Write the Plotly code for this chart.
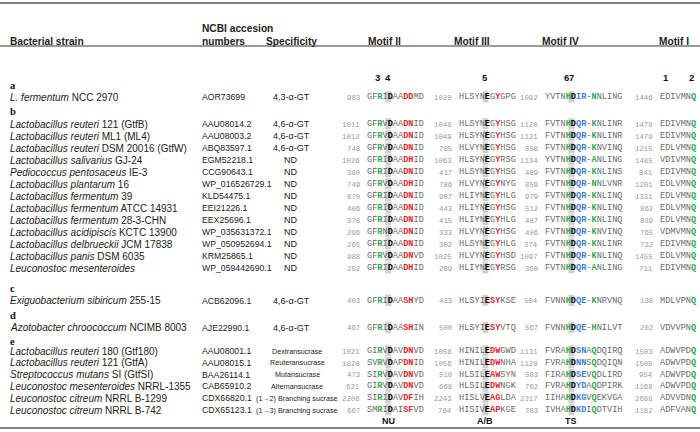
import plotly.graph_objects as go

# ---------------- data ----------------
section_labels = ["a", "b", "c", "d", "e"]
section_sizes = [1, 13, 1, 1, 6]

strain_italic = [
    "L. fermentum",
    "Lactobacillus reuteri", "Lactobacillus reuteri", "Lactobacillus reuteri",
    "Lactobacillus salivarius", "Pediococcus pentosaceus", "Lactobacillus plantarum",
    "Lactobacillus fermentum", "Lactobacillus fermentum", "Lactobacillus fermentum",
    "Lactobacillus acidipiscis", "Lactobacillus delbrueckii", "Lactobacillus panis",
    "Leuconostoc mesenteroides",
    "Exiguobacterium sibiricum",
    "Azotobacter chroococcum",
    "Lactobacillus reuteri", "Lactobacillus reuteri", "Streptococcus mutans",
    "Leuconostoc mesenteroides", "Leuconostoc citreum", "Leuconostoc citreum",
]
strain_rest = [
    "NCC 2970",
    "121 (GtfB)", "ML1 (ML4)", "DSM 20016 (GtfW)",
    "GJ-24", "IE-3", "16",
    "39", "ATCC 14931", "28-3-CHN",
    "KCTC 13900", "JCM 17838", "DSM 6035",
    "",
    "255-15",
    "NCIMB 8003",
    "180 (Gtf180)", "121 (GtfA)", "SI (GtfSI)",
    "NRRL-1355", "NRRL B-1299", "NRRL B-742",
]
accessions = [
    "AOR73699",
    "AAU08014.2", "AAU08003.2", "ABQ83597.1", "EGM52218.1", "CCG90643.1",
    "WP_016526729.1", "KLD54475.1", "EEI21226.1", "EEX25696.1", "WP_035631372.1",
    "WP_050952694.1", "KRM25865.1", "WP_059442690.1",
    "ACB62096.1",
    "AJE22990.1",
    "AAU08001.1", "AAU08015.1", "BAA26114.1", "CAB65910.2", "CDX66820.1", "CDX65123.1",
]
specificity = [
    "4,3-α-GT",
    "4,6-α-GT", "4,6-α-GT", "4,6-α-GT", "ND", "ND", "ND", "ND", "ND", "ND", "ND",
    "ND", "ND", "ND",
    "4,6-α-GT",
    "4,6-α-GT",
    "Dextransucrase", "Reuteransucrase", "Mutansucrase", "Alternansucrase",
    "(1→2) Branching sucrase", "(1→3) Branching sucrase",
]
m2_start = [983, 1011, 1012, 748, 1026, 380, 749, 870, 406, 378, 296, 265, 988, 252,
            403, 467, 1021, 1020, 473, 631, 2206, 667]
m2_seq = ["GFRIDAADDMD",
          "GFRVDAADNID", "GFRVDAADNID", "GFRVDAADNID", "GFRIDAADHID", "GFRIDAADNID",
          "GFRVDAADHID", "GFRIDAADNID", "GFRIDAADNID", "GFRIDAADNID", "GFRNDAADNID",
          "GFRIDAADNID", "GFRVDAADNVD", "GFRIDAADHID",
          "GFRIDAASHYD",
          "GFRIDAASHIN",
          "GIRVDAVDNVD", "SVRVDAPDNID", "SIRVDAVDNVD", "GIRVDAVDNVD", "SIRIDAVDFIH",
          "SMRIDAISFVD"]
m3_start = [1020, 1048, 1049, 785, 1063, 417, 786, 907, 443, 415, 333, 302, 1025, 289,
            433, 500, 1058, 1056, 510, 668, 2243, 704]
m3_seq = ["HLSYNEGYGPG",
          "HLSYNEGYHSG", "HLSYNEGYHSG", "HLVYNEGYHSG", "HLSYNEGYRSG", "HLSYNEGYHSG",
          "HLVYNEGYNYG", "HLIYNEGYHLG", "HLIYNEGYHSG", "HLIYNEGYHLG", "HLVYNEGYHSG",
          "HLSYNEGYHLG", "HLVYNEGYHSD", "HLIYNEGYRSG",
          "HLSYIESYKSE",
          "HLSYIESYVTQ",
          "HINILEDWGWD", "HINILEDWNHA", "HLSILEAWSYN", "HLSILEDWNGK", "HISLVEAGLDA",
          "HISIVEAPKGE"]
m4_start = [1092, 1120, 1121, 858, 1134, 489, 859, 979, 512, 487, 406, 374, 1097, 360,
            504, 567, 1131, 1128, 583, 762, 2317, 783]
m4_seq = ["YVTNHDIR-NNLING",
          "FVTNHDQR-KNLINR", "FVTNHDQR-KNLINR", "FVTNHDQR-KNVINQ", "YVTNHDQR-ANLING",
          "FVTNHDQR-KNLINS", "FVTNHDQR-NNLVNR", "FVTNHDQR-KNLINQ", "FVTNHDQR-KNLINQ",
          "FVTNHDQR-KNLINQ", "FVTNHDQR-KNVINQ", "FVTNHDQR-KNLINR", "FVTNHDQR-KNLINQ",
          "FVTNHDQR-ANLING",
          "FVNNHDQE-KNRVNQ",
          "FVNNHDQE-HNILVT",
          "FVRAHDSNAQDQIRQ", "FVRAHDNNSQDQIQN", "FIRAHDSEVQDLIRD", "FVRAHDYDAQDPIRK",
          "IIHAHDKGVQEKVGA", "IVHAHDKDIQDTVIH"]
m1_start = [1446, 1478, 1479, 1215, 1485, 841, 1201, 1331, 862, 839, 765, 732, 1455, 711,
            138, 202, 1503, 1508, 954, 1168, 2688, 1182]
m1_seq = ["EDIVMNQ",
          "EDIVMNQ", "EDIVMNQ", "EDLVMNQ", "VDIVMNQ", "EDIVMNQ", "EDLVMNQ", "EDLVMNQ",
          "EDLVMNQ", "EDLVMNQ", "VDMVMNQ", "EDIVMNQ", "EDLVMNQ", "EDIVMNQ",
          "MDLVPNQ",
          "VDVVPNQ",
          "ADWVPDQ", "ADWVPDQ", "ADWVPDQ", "ADWVPDQ", "ADVVDNQ", "ADFVANQ"]

motif_headers = ["Motif II", "Motif III", "Motif IV", "Motif I"]
# residue numbering labels: (label, motif column, residue index)
residue_label_text = ["3", "4", "5", "6", "7", "1", "2"]
residue_label_motif = [0, 0, 1, 2, 2, 3, 3]
residue_label_index = [2, 4, 5, 4, 5, 1, 6]
# footer labels under catalytic residues
footer_text = ["NU", "A/B", "TS"]
footer_motif = [0, 1, 2]
footer_index = [4, 5, 5]

# ---------------- styling / layout ----------------
W, H = 700, 432
SANS = "Liberation Sans, Arial, sans-serif"
SERIF = "Liberation Serif, Times New Roman, serif"
MONO = "Liberation Mono, Courier New, monospace"
MONO_SIZE = 8.6
CW = 0.6 * MONO_SIZE
GREEN, RED, BLUE = "#2fa84f", "#e3262b", "#3d7fd6"
SEQ_GRAY, NUM_GRAY, BOX_GRAY = "#6a6a6a", "#9a9a9a", "#d0d0d0"

X_NAME, X_ACC, X_SPEC, X_SPEC_E = 8, 200, 291, 297
MOTIF_X = [365, 457, 543, 658]
HEADER_CX = [384, 472, 560, 674]

# residue colour rules per motif column: index -> class
rules = [
    {2: "g", 4: "k", 7: "r", 8: "r"},
    {5: "k", 6: "r?", 7: "r"},
    {4: "g", 5: "k", 6: "b", 7: "b", 9: "g"},
    {6: "g"},
]
cls_color = {"g": GREEN, "r": RED, "b": BLUE, "k": "#000000"}


def seq_html(seq, rule):
    out = []
    for i, ch in enumerate(seq):
        c = rule.get(i)
        if c == "r?":
            c = "r" if ch != "G" else None
        if c is None:
            out.append(ch)
        else:
            out.append(f'<span style="color:{cls_color[c]}"><b>{ch}</b></span>')
    return "".join(out)


fig = go.Figure()
ann = []
shapes = []


def text(x, y, s, size=9, color="#222", family=SANS, xanchor="left", yanchor="middle"):
    ann.append(dict(x=x, y=y, xref="x", yref="y", text=s, showarrow=False,
                    xanchor=xanchor, yanchor=yanchor,
                    font=dict(size=size, color=color, family=family)))


# rules
shapes.append(dict(type="line", x0=0, x1=W, y0=3, y1=3, xref="x", yref="y",
                   line=dict(color="#555", width=1.5)))
shapes.append(dict(type="line", x0=0, x1=W, y0=46, y1=46, xref="x", yref="y",
                   line=dict(color="#9a9a9a", width=2)))
shapes.append(dict(type="line", x0=0, x1=W, y0=428, y1=428, xref="x", yref="y",
                   line=dict(color="#555", width=1.5)))

# headers
HS = 10.2
text(X_NAME, 41, "<b>Bacterial strain</b>", size=HS)
text(X_ACC, 28, "<b>NCBI accesion</b>", size=HS)
text(X_ACC, 41, "<b>numbers</b>", size=HS)
text(X_SPEC, 41, "<b>Specificity</b>", size=HS, xanchor="center")
for k, h in enumerate(motif_headers):
    text(HEADER_CX[k], 41, f"<b>{h}</b>", size=HS, xanchor="center")

# row positions
sec_pre_gap = [0, 14, 20, 14.5, 13.5]
sec_label_gap = [12, 13, 12.5, 12.5, 10]
sec_step = [12.0, 12.0, 12.0, 12.0, 11.8]
label_y = []
row_y = []
y = 85
for s, n in enumerate(section_sizes):
    if s > 0:
        y = y + sec_pre_gap[s]
    label_y.append(y)
    y = y + sec_label_gap[s]
    for r in range(n):
        row_y.append(y)
        if r < n - 1:
            y = y + sec_step[s]

for s, lab in enumerate(section_labels):
    text(X_NAME, label_y[s], f"<b>{lab}</b>", size=10.5, color="#111", family=SERIF)

# residue number labels (above the first data row)
for t, m, i in zip(residue_label_text, residue_label_motif, residue_label_index):
    text(MOTIF_X[m] + (i + 0.5) * CW, label_y[0] - 8, f"<b>{t}</b>", size=9.5,
         color="#111", xanchor="center")

seqs = [m2_seq, m3_seq, m4_seq, m1_seq]
starts = [m2_start, m3_start, m4_start, m1_start]
box_idx = [4, 5, 5, None]

for r, yy in enumerate(row_y):
    name = f"<i>{strain_italic[r]}</i>" + (f" {strain_rest[r]}" if strain_rest[r] else "")
    text(X_NAME, yy, name, size=10.0, color="#222")
    text(X_ACC, yy, accessions[r], size=8.7, color="#222")
    if r >= 16:
        text(X_SPEC_E, yy, specificity[r], size=7.2, color="#222", xanchor="center")
    else:
        text(X_SPEC, yy, specificity[r], size=9.0, color="#222", xanchor="center")
    for k in range(4):
        x0 = MOTIF_X[k]
        text(x0 - 3.2, yy + 0.8, str(starts[k][r]), size=7.3, color=NUM_GRAY,
             family=MONO, xanchor="right")
        if box_idx[k] is not None:
            bx = x0 + box_idx[k] * CW
            shapes.append(dict(type="rect", xref="x", yref="y", layer="below",
                               x0=bx - 0.4, x1=bx + CW + 0.4, y0=yy - 5.8, y1=yy + 5.4,
                               fillcolor=BOX_GRAY, line=dict(width=0)))
        text(x0, yy, seq_html(seqs[k][r], rules[k]), size=MONO_SIZE,
             color=SEQ_GRAY, family=MONO)

for t, m, i in zip(footer_text, footer_motif, footer_index):
    text(MOTIF_X[m] + (i + 0.5) * CW, 421, f"<b>{t}</b>", size=9, color="#111",
         xanchor="center")

fig.update_layout(
    width=W, height=H, margin=dict(l=0, r=0, t=0, b=0),
    paper_bgcolor="white", plot_bgcolor="white",
    xaxis=dict(range=[0, W], visible=False, fixedrange=True),
    yaxis=dict(range=[H, 0], visible=False, fixedrange=True),
    annotations=ann, shapes=shapes, showlegend=False,
)
fig.write_html(
    "out.html",
    config={"displayModeBar": False, "staticPlot": True},
    post_script="document.body.style.margin='0px';document.body.style.overflow='hidden';",
)
